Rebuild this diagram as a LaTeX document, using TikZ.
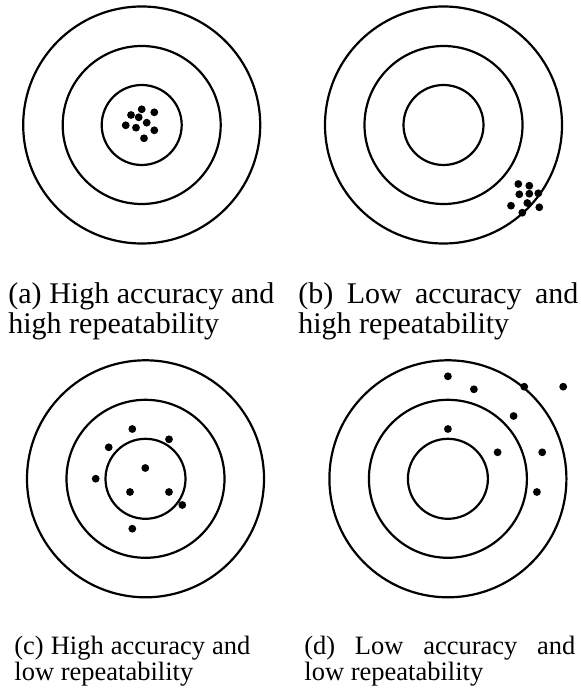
\documentclass[tikz,border=0pt]{standalone}
\usepackage{fontspec}
\setmainfont{Liberation Serif}
\usepackage{tikz}
\usetikzlibrary{positioning}
\hyphenpenalty=10000

\begin{document}
\begin{tikzpicture}[x=0.5pt, y=-0.5pt,
        ring/.style={circle, draw, line width=1.1pt, inner sep=0pt},
        shot/.style={circle, fill, inner sep=0pt, minimum size=3.9pt},
        capt/.style={anchor=base west, inner sep=0pt, align=justify,
                     font=\fontsize{15}{13.2}\selectfont},
        captlow/.style={capt, font=\fontsize{13.25}{13.1}\selectfont},
      ]
        \useasboundingbox (0,0) rectangle (581,694);

        % three rings per target
        \foreach \t/\cx/\cy in {ta/141.7/125, tb/443.5/125, tc/145.5/478.8, td/447.9/478.8} {
          \coordinate (\t) at (\cx,\cy);
          \node[ring, minimum size=40pt] (\t-in) at (\t) {};
          \node[ring, minimum size=79pt] (\t-mid) at (\t) {};
          \node[ring, minimum size=118.5pt] (\t-out) at (\t) {};
        }

        % shots
        \foreach \dx/\dy in {0/-15.7, -10.7/-10, 12.6/-12.7, -3/-7.7, 5/-2.3,
                             -16/0.3, -5.7/2.7, 12.6/5.3, 2.3/13.3}
          \node[shot] at ([shift={(\dx,\dy)}]ta) {};
        \foreach \dx/\dy in {74.8/59, 85.8/60.7, 75.8/69.3, 85.8/68.7, 94.8/68.3,
                             67.5/80.7, 83.8/78, 95.8/82.3, 78.8/87.7}
          \node[shot] at ([shift={(\dx,\dy)}]tb) {};
        \foreach \dx/\dy in {-13.2/-49.8, 23.5/-39.5, -36.8/-31.5, -0.2/-10.8, -49.8/-0.1,
                             -15.5/13.2, 23.5/13.2, 36.8/26.2, -13.2/49.9}
          \node[shot] at ([shift={(\dx,\dy)}]tc) {};
        \foreach \dx/\dy in {0/-102.5, 26/-89.5, 76.3/-92.1, 115.3/-92.1, 65.7/-62.8,
                             0/-49.8, 49.7/-26.5, 94.3/-26.5, 89/13.2}
          \node[shot] at ([shift={(\dx,\dy)}]td) {};

        % captions
        \node[capt, text width=133pt] (capa) at (8,304)
              {(a) High accuracy and\linebreak high repeatability};
        \node[capt, text width=140pt] (capb) at (298,304)
              {(b) Low accuracy and\linebreak high repeatability};
        \node[captlow, text width=118pt] (capc) at (14,654.5)
              {(c) High accuracy and\linebreak low repeatability};
        \node[captlow, text width=135.5pt] (capd) at (304,654.5)
              {(d) Low accuracy and\linebreak low repeatability};
      \end{tikzpicture}
\end{document}
